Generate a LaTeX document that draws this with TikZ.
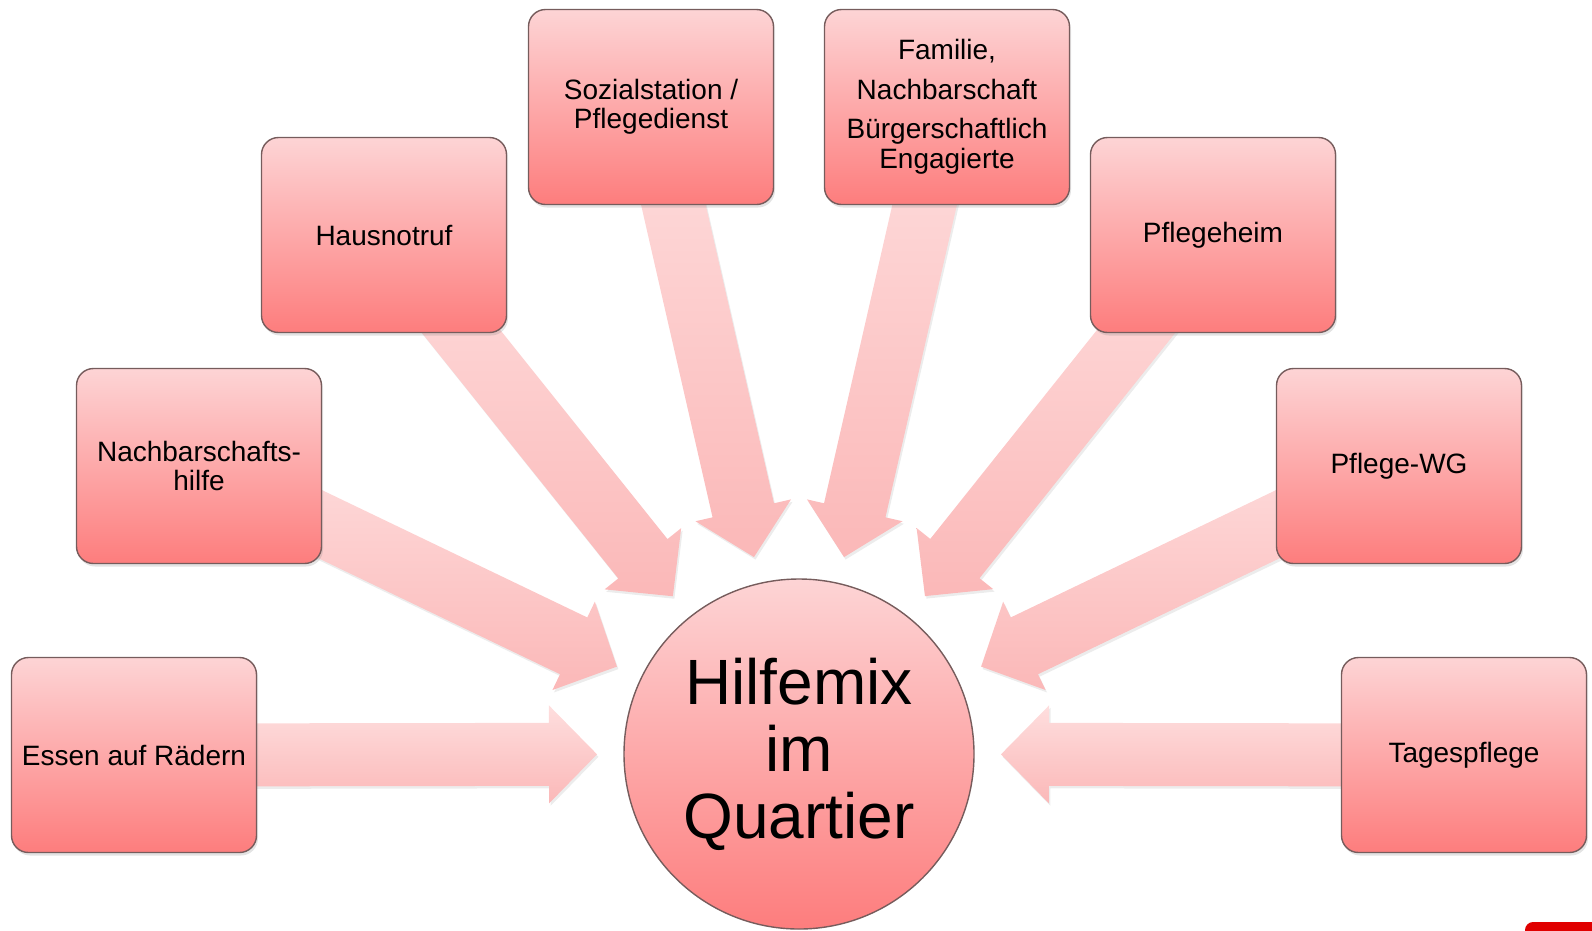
\documentclass[tikz,border=0pt]{standalone}
\usepackage{fontspec}
\setmainfont{Liberation Sans}
\usetikzlibrary{calc,shadows}
\pgfdeclarelayer{bg}
\pgfsetlayers{bg,main}
\definecolor{boxtop}{HTML}{FDD4D5}
\definecolor{boxbot}{HTML}{FD7D7D}
\definecolor{boxline}{HTML}{765C5C}
\definecolor{arrtop}{HTML}{FEDEDE}
\definecolor{arrbot}{HTML}{FBB8B8}
\definecolor{markred}{HTML}{E00000}
\newcommand\blockarrow[1]{%
  \path[arrowfill] let \p1=($(#1.center)-(hub.center)$),
      \n1={atan2(\y1,\x1)}, \n2={\n1+90}, \n3={\n1-90},
      \p2=($(hub.center)+(\n1:202pt)$),
      \p3=($(\p2)+(\n1:48pt)$) in
    (\p2) -- ($(\p3)+(\n2:49pt)$) -- ($(\p3)+(\n2:31.5pt)$)
    -- ($(#1.center)+(\n2:31.5pt)$) -- ($(#1.center)+(\n3:31.5pt)$)
    -- ($(\p3)+(\n3:31.5pt)$) -- ($(\p3)+(\n3:49pt)$) -- cycle;
}
\begin{document}
\begin{tikzpicture}[x=1pt,y=-1pt,
  box/.style={rectangle, rounded corners=17pt, minimum width=245pt, minimum height=195pt,
    draw=boxline, line width=1.4pt, top color=boxtop, bottom color=boxbot,
    align=center, inner sep=4pt, font=\fontsize{28}{29.5}\selectfont,
    drop shadow={shadow xshift=1.5pt, shadow yshift=-3pt, opacity=0.22}},
  hub/.style={circle, minimum size=350pt, inner sep=0pt, draw=boxline, line width=1.4pt,
    top color=boxtop, bottom color=boxbot, align=center,
    font=\fontsize{64}{67}\selectfont},
  arrowfill/.style={top color=arrtop, bottom color=arrbot, draw=none,
    drop shadow={shadow xshift=1.5pt, shadow yshift=-2.5pt, opacity=0.15}}]
\useasboundingbox (0,0) rectangle (1592,930);

\node[hub] (hub) at (799,754) {Hilfemix\\im\\Quartier};
\node[box] (b1) at (134,755) {Essen auf Rädern};
\node[box] (b2) at (199,466) {Nachbarschafts-\\hilfe};
\node[box] (b3) at (384,235) {Hausnotruf};
\node[box] (b4) at (651,107) {Sozialstation /\\Pflegedienst};
\node[box] (b5) at (947,107) {Familie,\\[10pt]Nachbarschaft\\[10pt]Bürgerschaftlich\\Engagierte};
\node[box] (b6) at (1213,235) {Pflegeheim};
\node[box] (b7) at (1399,466) {Pflege-WG};
\node[box] (b8) at (1464,755) {Tagespflege};

\begin{pgfonlayer}{bg}
  \foreach \b in {b1,b2,b3,b4,b5,b6,b7,b8} {\blockarrow{\b}}
\end{pgfonlayer}

\fill[markred, rounded corners=8pt] (1525,922) rectangle (1620,950);
\end{tikzpicture}
\end{document}
